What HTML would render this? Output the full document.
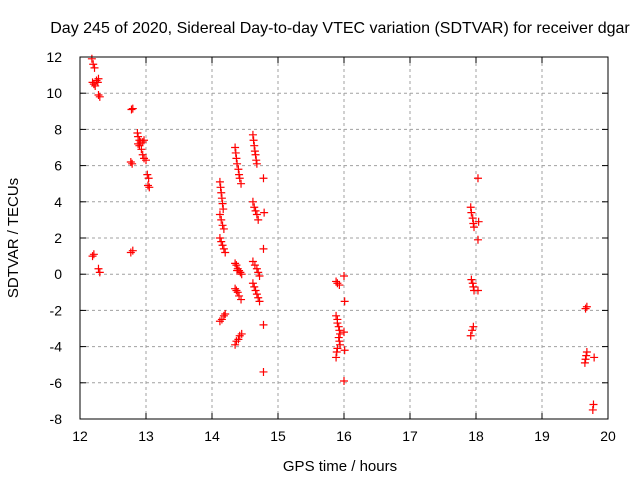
<!DOCTYPE html>
<html><head><meta charset="utf-8"><style>body{margin:0;background:#fff}svg{font-family:"Liberation Sans",sans-serif}</style></head>
<body>
<svg id="c" width="640" height="480">
<text x="340" y="33" text-anchor="middle" font-size="16">Day 245 of 2020, Sidereal Day-to-day VTEC variation (SDTVAR) for receiver dgar</text>
<text x="340" y="471" text-anchor="middle" font-size="15">GPS time / hours</text>
<text transform="translate(18,238) rotate(-90)" text-anchor="middle" font-size="15">SDTVAR / TECUs</text>
<g id="grid"></g><g id="pts"></g>
<rect x="80" y="57" width="528" height="362" fill="none" stroke="#000"/>
</svg>
<script>
const xTicks=[12,13,14,15,16,17,18,19,20];
const yTicks=[-8,-6,-4,-2,0,2,4,6,8,10,12];
const xs=[12.18,12.2,12.22,12.19,12.21,12.23,12.25,12.28,12.27,12.28,12.3,12.19,12.21,12.28,12.3,
12.78,12.8,12.77,12.79,12.77,12.8,
12.87,12.88,12.9,12.92,12.88,12.95,12.97,12.9,12.93,12.95,12.97,13.0,13.02,13.04,13.03,13.05,
14.12,14.13,14.14,14.15,14.16,14.17,14.12,14.14,14.16,14.18,14.12,14.14,14.16,14.18,14.2,14.12,14.15,14.18,14.2,
14.35,14.36,14.37,14.38,14.4,14.41,14.42,14.44,14.35,14.37,14.39,14.41,14.43,14.38,14.45,14.35,14.37,14.39,14.41,14.44,14.35,14.37,14.4,14.42,14.45,
14.62,14.63,14.64,14.65,14.66,14.67,14.68,14.62,14.64,14.66,14.68,14.7,14.62,14.65,14.68,14.7,14.72,14.62,14.64,14.66,14.68,14.7,14.72,14.78,14.79,14.78,14.78,14.78,
15.88,15.9,15.93,15.88,15.9,15.9,15.92,15.93,15.94,15.92,15.93,15.94,15.9,15.89,15.88,16.0,16.01,16.0,16.01,16.0,
17.92,17.93,17.95,17.96,17.97,17.93,17.95,17.96,17.97,17.96,17.94,17.92,18.03,18.04,18.03,18.03,
19.66,19.68,19.68,19.67,19.66,19.65,19.78,19.77,19.79];
const ys=[11.9,11.6,11.4,10.6,10.5,10.4,10.7,10.8,10.6,9.9,9.8,1.0,1.1,0.3,0.1,
9.1,9.15,6.2,6.1,1.2,1.3,
7.8,7.6,7.4,7.3,7.2,7.3,7.4,7.1,6.9,6.6,6.4,6.3,5.5,5.3,4.9,4.8,
5.1,4.8,4.5,4.2,3.9,3.6,3.3,3.0,2.7,2.5,2.0,1.8,1.6,1.4,1.2,-2.6,-2.5,-2.3,-2.2,
7.0,6.7,6.4,6.1,5.8,5.5,5.3,5.0,0.6,0.5,0.3,0.2,0.1,0.2,0.0,-0.8,-0.9,-1.0,-1.2,-1.4,-3.9,-3.7,-3.6,-3.4,-3.3,
7.7,7.4,7.1,6.8,6.6,6.3,6.1,4.0,3.7,3.5,3.3,3.0,0.7,0.5,0.3,0.1,-0.1,-0.5,-0.7,-0.9,-1.1,-1.3,-1.5,5.3,3.4,1.4,-2.8,-5.4,
-0.4,-0.5,-0.6,-2.3,-2.5,-2.7,-2.9,-3.1,-3.3,-3.5,-3.7,-3.9,-4.1,-4.3,-4.6,-0.1,-1.5,-3.2,-4.2,-5.9,
3.7,3.4,3.1,2.8,2.6,-0.3,-0.5,-0.7,-0.9,-2.9,-3.1,-3.4,5.3,2.9,1.9,-0.9,
-1.9,-1.8,-4.3,-4.5,-4.7,-4.9,-7.2,-7.5,-4.6];
const X=v=>80+(v-12)*66, Y=v=>419-(v+8)*18.1;
const NS='http://www.w3.org/2000/svg',g=document.getElementById('grid'),p=document.getElementById('pts');
function mk(par,t,a){const e=document.createElementNS(NS,t);for(const k in a)e.setAttribute(k,a[k]);par.appendChild(e);return e;}
xTicks.forEach(v=>{const x=X(v);
 if(v>12&&v<20){const l=mk(g,'line',{x1:x,x2:x,y1:57,y2:419,stroke:'#a0a0a0','stroke-dasharray':'3,3'});}
 mk(g,'line',{x1:x,x2:x,y1:419,y2:413,stroke:'#000'});mk(g,'line',{x1:x,x2:x,y1:57,y2:63,stroke:'#000'});
 const t=mk(g,'text',{x:x,y:441,'text-anchor':'middle','font-size':14});t.textContent=v;
 });
yTicks.forEach(v=>{const y=Y(v);
 if(v>-8&&v<12){const l=mk(g,'line',{x1:80,x2:608,y1:y,y2:y,stroke:'#a0a0a0','stroke-dasharray':'3,3'});}
 mk(g,'line',{x1:80,x2:86,y1:y,y2:y,stroke:'#000'});mk(g,'line',{x1:602,x2:608,y1:y,y2:y,stroke:'#000'});
 const t=mk(g,'text',{x:62,y:y+5,'text-anchor':'end','font-size':14});t.textContent=v;
 });
xs.forEach((xv,i)=>{const x=X(xv),y=Y(ys[i]);
 const e=mk(p,'path',{d:`M${x-4},${y}H${x+4}M${x},${y-4}V${y+4}`,stroke:'#f00','stroke-width':1.2});
 
 });
</script>
</body></html>
